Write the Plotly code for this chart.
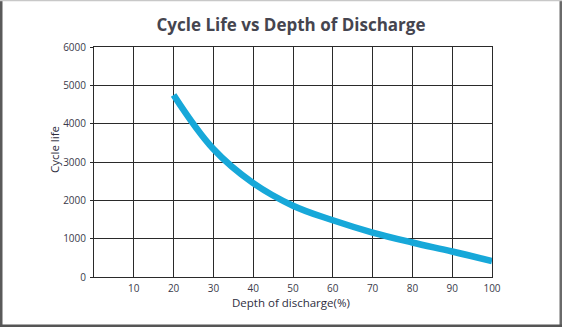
import plotly.graph_objects as go

# Data
depth_of_discharge = [20, 30, 40, 50, 60, 70, 80, 90, 100]
cycle_life = [4750, 3340, 2450, 1860, 1480, 1160, 900, 665, 415]
x_tick_vals = [10, 20, 30, 40, 50, 60, 70, 80, 90, 100]
x_tick_text = ["10", "20", "30", "40", "50", "60", "70", "80", "90", "100"]
y_tick_vals = [0, 1000, 2000, 3000, 4000, 5000, 6000]

W, H = 562, 327
L, R, T, B = 94, 70, 47, 50
PW, PH = W - L - R, H - T - B

def px(x):
    return (x - L) / PW

def py(y):
    return (H - B - y) / PH

fig = go.Figure()
fig.add_trace(go.Scatter(
    x=depth_of_discharge, y=cycle_life, mode="lines",
    line=dict(color="#17a8d9", width=6.5, shape="spline", smoothing=1.1),
    hoverinfo="skip", showlegend=False,
))

tick_font = dict(family="Open Sans, sans-serif", size=10, color="#3a3a4a")

fig.update_layout(
    width=W, height=H,
    margin=dict(l=L, r=R, t=T, b=B),
    paper_bgcolor="white", plot_bgcolor="white",
    title=dict(text="<b>Cycle Life vs Depth of Discharge</b>",
               x=291 / W, xanchor="center", y=1 - 25 / H, yanchor="middle",
               font=dict(family="Open Sans, sans-serif", size=17, color="#45454f")),
    xaxis=dict(range=[0, 100], tickvals=x_tick_vals, ticktext=x_tick_text,
               showgrid=True, gridcolor="#2a2a2a", gridwidth=1,
               showline=True, linecolor="#2a2a2a", linewidth=1, mirror=True,
               ticks="", tickfont=tick_font, ticklabelstandoff=2,
               zeroline=False, fixedrange=True),
    yaxis=dict(range=[0, 6000], tickvals=y_tick_vals,
               showgrid=True, gridcolor="#2a2a2a", gridwidth=1,
               showline=True, linecolor="#2a2a2a", linewidth=1, mirror=True,
               ticks="outside", ticklen=3, tickcolor="#2a2a2a",
               tickfont=tick_font, ticklabelstandoff=2,
               zeroline=False, fixedrange=True),
    annotations=[
        dict(text="Depth of discharge(%)", xref="paper", yref="paper",
             x=px(291), y=py(302), xanchor="center", yanchor="middle",
             showarrow=False,
             font=dict(family="Open Sans, sans-serif", size=11.5, color="#2e2e3e")),
        dict(text="Cycle life", xref="paper", yref="paper",
             x=px(54), y=py(150), xanchor="center", yanchor="middle",
             textangle=-90, showarrow=False,
             font=dict(family="Open Sans, sans-serif", size=11.5, color="#2e2e3e")),
    ],
    shapes=[
        dict(type="rect", xref="paper", yref="paper", x0=px(0), x1=px(2.5),
             y0=py(0), y1=py(H), fillcolor="#5a5a5a", line=dict(width=0), layer="above"),
        dict(type="rect", xref="paper", yref="paper", x0=px(559.5), x1=px(W),
             y0=py(0), y1=py(H), fillcolor="#6a6a6a", line=dict(width=0), layer="above"),
        dict(type="rect", xref="paper", yref="paper", x0=px(0), x1=px(W),
             y0=py(324.5), y1=py(H), fillcolor="#555555", line=dict(width=0), layer="above"),
        dict(type="rect", xref="paper", yref="paper", x0=px(0), x1=px(W),
             y0=py(0), y1=py(1.2), fillcolor="#c8c8c8", line=dict(width=0), layer="above"),
    ],
)

fig.write_html("out.html")
